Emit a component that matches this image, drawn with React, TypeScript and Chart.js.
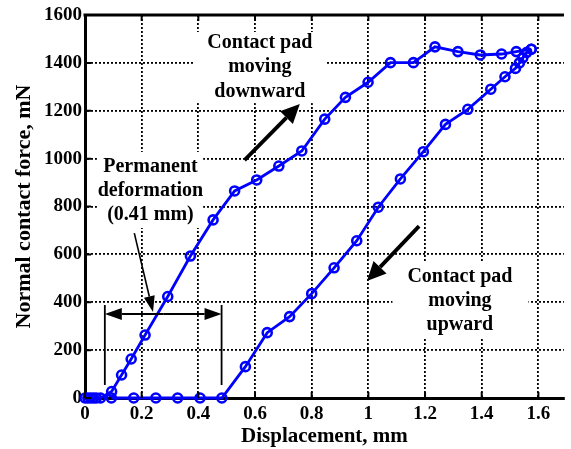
import { useEffect, useRef } from 'react';
import { Chart, registerables } from 'chart.js';

Chart.register(...registerables);

// ---- data ----
const loadX = [0, 0.01, 0.02, 0.03, 0.04, 0.055, 0.094, 0.129, 0.163, 0.212, 0.292, 0.372, 0.452, 0.528, 0.606, 0.684, 0.765, 0.846, 0.919, 0.999, 1.078, 1.159, 1.235, 1.316, 1.395, 1.47, 1.522, 1.575];
const loadY = [0, 0, 0, 0, 0, 0, 27, 96, 163, 263, 424, 593, 744, 865, 911, 969, 1032, 1165, 1256, 1319, 1401, 1401, 1467, 1447, 1433, 1437, 1447, 1457];
const unloadX = [1.575, 1.559, 1.545, 1.533, 1.519, 1.482, 1.432, 1.351, 1.272, 1.194, 1.113, 1.035, 0.959, 0.879, 0.8, 0.722, 0.643, 0.566, 0.483, 0.406, 0.327, 0.25, 0.172, 0.093];
const unloadY = [1457, 1444, 1421, 1400, 1377, 1342, 1290, 1206, 1143, 1029, 915, 797, 657, 544, 436, 340, 273, 131, 0, 0, 0, 0, 0, 0];

const xTicks = [0, 0.2, 0.4, 0.6, 0.8, 1, 1.2, 1.4, 1.6];
const xTickLabels = ['0', '0.2', '0.4', '0.6', '0.8', '1', '1.2', '1.4', '1.6'];
const yTicks = [0, 200, 400, 600, 800, 1000, 1200, 1400, 1600];
const yTickLabels = ['0', '200', '400', '600', '800', '1000', '1200', '1400', '1600'];

const xTitle = 'Displacement, mm';
const yTitle = 'Normal contact force, mN';
const noteDown = ['Contact pad', 'moving', 'downward'];
const notePerm = ['Permanent', 'deformation', '(0.41 mm)'];
const noteUp = ['Contact pad', 'moving', 'upward'];

const BLUE = '#0000ff';
const FONT = '"Liberation Serif", "Times New Roman", serif';

// annotation placement in data units
const notes = [
  { lines: noteDown, cx: 0.617, ys: [1483, 1383, 1278], box: [0.383, 0.852, 1529, 1232] },
  { lines: notePerm, cx: 0.231, ys: [965, 865, 764], box: [0.042, 0.417, 1028, 710] },
  { lines: noteUp, cx: 1.323, ys: [505, 405, 305], box: [1.085, 1.565, 564, 251] },
];

function arrow(ctx: CanvasRenderingContext2D, x1: number, y1: number, x2: number, y2: number, lw: number, hl: number, hw: number) {
  const ang = Math.atan2(y2 - y1, x2 - x1);
  const bx = x2 - hl * Math.cos(ang);
  const by = y2 - hl * Math.sin(ang);
  ctx.lineWidth = lw;
  ctx.beginPath();
  ctx.moveTo(x1, y1);
  ctx.lineTo(bx, by);
  ctx.stroke();
  ctx.beginPath();
  ctx.moveTo(x2, y2);
  ctx.lineTo(bx + hw * Math.sin(ang), by - hw * Math.cos(ang));
  ctx.lineTo(bx - hw * Math.sin(ang), by + hw * Math.cos(ang));
  ctx.closePath();
  ctx.fill();
}

const annotPlugin = {
  id: 'annot',
  beforeDatasetsDraw(chart: any) {
    const { ctx, scales } = chart;
    const xs = scales.x, ys = scales.y;
    ctx.save();
    for (const n of notes) {
      const x1 = xs.getPixelForValue(n.box[0]);
      const x2 = xs.getPixelForValue(n.box[1]);
      const y1 = ys.getPixelForValue(n.box[2]);
      const y2 = ys.getPixelForValue(n.box[3]);
      ctx.fillStyle = '#ffffff';
      ctx.fillRect(x1, y1, x2 - x1, y2 - y1);
      ctx.fillStyle = '#000000';
      ctx.font = `bold 20px ${FONT}`;
      ctx.textAlign = 'center';
      ctx.textBaseline = 'middle';
      n.lines.forEach((t, i) => {
        ctx.fillText(t, xs.getPixelForValue(n.cx), ys.getPixelForValue(n.ys[i]));
      });
    }
    ctx.restore();
  },
  afterDatasetsDraw(chart: any) {
    const { ctx, scales, chartArea: a } = chart;
    const xs = scales.x, ys = scales.y;
    const X = (v: number) => xs.getPixelForValue(v);
    const Y = (v: number) => ys.getPixelForValue(v);
    ctx.save();
    ctx.strokeStyle = '#000';
    ctx.fillStyle = '#000';
    // top frame line
    ctx.lineWidth = 3;
    ctx.beginPath();
    ctx.moveTo(a.left - 1.5, a.top);
    ctx.lineTo(a.right, a.top);
    ctx.stroke();
    // inward ticks
    ctx.lineWidth = 2;
    ctx.beginPath();
    for (const v of xTicks) {
      const px = X(v);
      ctx.moveTo(px, a.bottom);
      ctx.lineTo(px, a.bottom - 6);
      ctx.moveTo(px, a.top);
      ctx.lineTo(px, a.top + 6);
    }
    for (const v of yTicks) {
      const py = Y(v);
      ctx.moveTo(a.left, py);
      ctx.lineTo(a.left + 6, py);
    }
    ctx.stroke();
    // arrows
    ctx.lineCap = 'butt';
    arrow(ctx, X(0.563), Y(994), X(0.758), Y(1228), 3.8, 19, 9);
    arrow(ctx, X(1.179), Y(718), X(0.995), Y(489), 3.8, 19, 9);
    arrow(ctx, X(0.174), Y(689), X(0.24), Y(359), 1.6, 16, 5.5);
    // double arrow + limit lines
    const yy = Y(351);
    const l = X(0.07), r = X(0.482);
    const mid = (l + r) / 2;
    arrow(ctx, mid, yy, l, yy, 2, 17, 6);
    arrow(ctx, mid, yy, r, yy, 2, 17, 6);
    ctx.lineWidth = 1.8;
    ctx.beginPath();
    ctx.moveTo(l, Y(389));
    ctx.lineTo(l, Y(54));
    ctx.moveTo(r, Y(389));
    ctx.lineTo(r, Y(54));
    ctx.stroke();
    ctx.restore();
  },
};

export default function App() {
  const ref = useRef<HTMLCanvasElement>(null);
  useEffect(() => {
    if (!ref.current) return;
    const mk = (xa: number[], ya: number[]) => xa.map((v, i) => ({ x: v, y: ya[i] }));
    const ds = (data: any) => ({
      data,
      borderColor: BLUE,
      borderWidth: 2.8,
      pointRadius: 4.5,
      pointBorderWidth: 2.6,
      pointBorderColor: BLUE,
      pointBackgroundColor: 'rgba(0,0,0,0)',
      showLine: true,
      tension: 0,
      clip: false as any,
    });
    const chart = new Chart(ref.current, {
      type: 'scatter',
      data: { datasets: [ds(mk(loadX, loadY)), ds(mk(unloadX, unloadY))] },
      options: {
        animation: false,
        responsive: false,
        devicePixelRatio: 1,
        layout: { padding: { top: 15, right: 0, left: 0, bottom: 0 } },
        plugins: { legend: { display: false }, tooltip: { enabled: false } },
        scales: {
          x: {
            type: 'linear',
            min: 0,
            max: 1.69,
            afterFit: (s: any) => { s.height = 51; },
            afterBuildTicks: (s: any) => { s.ticks = xTicks.map((v) => ({ value: v })); },
            ticks: {
              padding: 5,
              color: '#000',
              font: { family: FONT, size: 19, weight: 'bold' },
              callback: (v: any) => xTickLabels[xTicks.findIndex((t) => Math.abs(t - v) < 1e-6)] ?? '',
            },
            grid: { color: '#000', lineWidth: 1.8, drawTicks: false },
            border: { display: true, color: '#000', width: 3, dash: [2, 2] },
            title: { display: true, text: xTitle, color: '#000', font: { family: FONT, size: 21, weight: 'bold' }, padding: { top: 0, bottom: 0 } },
          },
          y: {
            type: 'linear',
            min: 0,
            max: 1600,
            afterFit: (s: any) => { s.width = 85; },
            afterBuildTicks: (s: any) => { s.ticks = yTicks.map((v) => ({ value: v })); },
            ticks: {
              padding: 3,
              color: '#000',
              font: { family: FONT, size: 19, weight: 'bold' },
              callback: (v: any) => yTickLabels[yTicks.indexOf(v)] ?? '',
            },
            grid: { color: '#000', lineWidth: 1.8, drawTicks: false },
            border: { display: true, color: '#000', width: 3, dash: [2, 2] },
            title: { display: true, text: yTitle, color: '#000', font: { family: FONT, size: 22, weight: 'bold' }, padding: { top: 11, bottom: 0 } },
          },
        },
      } as any,
      plugins: [annotPlugin],
    });
    return () => chart.destroy();
  }, []);
  return (
    <div style={{ position: 'fixed', left: 0, top: 0, width: 571, height: 449, background: '#fff' }}>
      <canvas ref={ref} width={571} height={449} style={{ display: 'block' }} />
    </div>
  );
}
